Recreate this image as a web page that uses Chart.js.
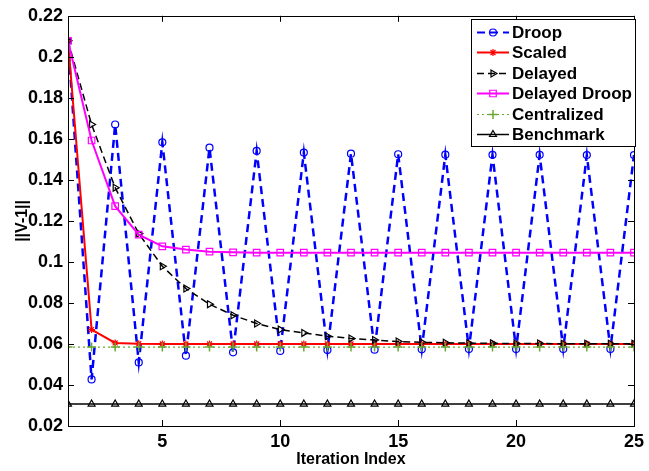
<!DOCTYPE html>
<html>
<head>
<meta charset="utf-8">
<script src="https://cdn.jsdelivr.net/npm/chart.js@4.4.0/dist/chart.umd.min.js"></script>
<style>
html, body { margin: 0; padding: 0; background: #fff; }
#wrap { width: 649px; height: 471px; position: relative; }
</style>
</head>
<body>
<div id="wrap"><canvas id="vChart"></canvas></div>
<script>
var iterations = [1, 2, 3, 4, 5, 6, 7, 8, 9, 10, 11, 12, 13, 14, 15, 16, 17, 18, 19, 20, 21, 22, 23, 24, 25];
var droop = [0.2078, 0.0427, 0.1670, 0.0510, 0.1583, 0.0543, 0.1557, 0.0559, 0.1541, 0.0566, 0.1533, 0.0570, 0.1528,
             0.0572, 0.1525, 0.0574, 0.1523, 0.0575, 0.1522, 0.0575, 0.1522, 0.0576, 0.1521, 0.0576, 0.1521];
var scaled = [0.2078, 0.0670, 0.0605, 0.0601, 0.0600, 0.0600, 0.0600, 0.0600, 0.0600, 0.0600, 0.0600, 0.0600, 0.0600,
              0.0600, 0.0600, 0.0600, 0.0600, 0.0600, 0.0600, 0.0600, 0.0600, 0.0600, 0.0600, 0.0600, 0.0600];
var delayed = [0.2078, 0.1670, 0.1362, 0.1138, 0.0979, 0.0870, 0.0794, 0.0740, 0.0700, 0.0670, 0.0654, 0.0638, 0.0627,
               0.0619, 0.0612, 0.0608, 0.0606, 0.0604, 0.0603, 0.0602, 0.0602, 0.0601, 0.0601, 0.0601, 0.0601];
var delayedDroop = [0.2078, 0.1592, 0.1272, 0.1133, 0.1076, 0.1060, 0.1050, 0.1047, 0.1045, 0.1045, 0.1045, 0.1045, 0.1045,
                    0.1045, 0.1045, 0.1045, 0.1045, 0.1045, 0.1045, 0.1045, 0.1045, 0.1045, 0.1045, 0.1045, 0.1045];
var centralized = [0.0585, 0.0585, 0.0585, 0.0585, 0.0585, 0.0585, 0.0585, 0.0585, 0.0585, 0.0585, 0.0585, 0.0585, 0.0585,
                   0.0585, 0.0585, 0.0585, 0.0585, 0.0585, 0.0585, 0.0585, 0.0585, 0.0585, 0.0585, 0.0585, 0.0585];
var benchmark = [0.0307, 0.0307, 0.0307, 0.0307, 0.0307, 0.0307, 0.0307, 0.0307, 0.0307, 0.0307, 0.0307, 0.0307, 0.0307,
                 0.0307, 0.0307, 0.0307, 0.0307, 0.0307, 0.0307, 0.0307, 0.0307, 0.0307, 0.0307, 0.0307, 0.0307];
var xTicks = [5, 10, 15, 20, 25];
var yTicks = [0.02, 0.04, 0.06, 0.08, 0.1, 0.12, 0.14, 0.16, 0.18, 0.2, 0.22];

var FONT = "'Liberation Sans', Arial, sans-serif";
var NONE = 'rgba(0,0,0,0)';

function xy(vals) {
    return vals.map(function (v, i) { return {x: iterations[i], y: v}; });
}

function series(label, vals, color, opts) {
    var ds = {
        label: label, data: xy(vals), borderColor: color, pointBorderColor: color,
        pointBackgroundColor: NONE, borderWidth: 1.5, pointBorderWidth: 1.2,
        pointRadius: 4, pointHoverRadius: 4, tension: 0, fill: false
    };
    for (var k in opts) ds[k] = opts[k];
    return ds;
}

var datasets = [
    series('Droop', droop, '#0000ff', {borderWidth: 2.5, borderDash: [8, 5], pointStyle: 'circle', pointRadius: 3.5, order: 6}),
    series('Scaled', scaled, '#ff0000', {borderWidth: 2, pointStyle: 'star', pointRadius: 3.5, pointBorderWidth: 1.2, order: 5}),
    series('Delayed', delayed, '#000000', {borderWidth: 1.5, borderDash: [7, 4], pointStyle: 'triangle', pointRotation: 90, order: 4}),
    series('Delayed Droop', delayedDroop, '#ff00ff', {borderWidth: 2, pointStyle: 'rect', pointRadius: 4.6, order: 3}),
    series('Centralized', centralized, '#6aa832', {borderWidth: 1.2, borderDash: [2, 3], pointStyle: 'cross', pointRadius: 4.5, pointBorderWidth: 1.5, order: 2}),
    series('Benchmark', benchmark, '#000000', {borderWidth: 1.5, pointStyle: 'triangle', pointRadius: 4, order: 1})
];

// matlab style box with inward ticks
var axesBox = {
    id: 'axesBox',
    afterDatasetsDraw: function (chart) {
        var ctx = chart.ctx, a = chart.chartArea;
        var sx = chart.scales.x, sy = chart.scales.y;
        ctx.save();
        ctx.strokeStyle = '#000';
        ctx.lineWidth = 1;
        ctx.strokeRect(Math.round(a.left) + 0.5, Math.round(a.top) + 0.5, Math.round(a.right - a.left), Math.round(a.bottom - a.top));
        ctx.beginPath();
        xTicks.forEach(function (t) {
            var px = Math.round(sx.getPixelForValue(t)) + 0.5;
            ctx.moveTo(px, a.bottom); ctx.lineTo(px, a.bottom - 6);
            ctx.moveTo(px, a.top); ctx.lineTo(px, a.top + 6);
        });
        yTicks.forEach(function (t) {
            var py = Math.round(sy.getPixelForValue(t)) + 0.5;
            ctx.moveTo(a.left, py); ctx.lineTo(a.left + 6, py);
            ctx.moveTo(a.right, py); ctx.lineTo(a.right - 6, py);
        });
        ctx.stroke();
        ctx.restore();
    }
};

var legendBox = {
    id: 'legendBox',
    afterDraw: function (chart) {
        var ctx = chart.ctx;
        var x0 = 471, y0 = 19, w = 164, h = 127;
        ctx.save();
        ctx.fillStyle = '#fff';
        ctx.fillRect(x0, y0, w, h);
        ctx.strokeStyle = '#000';
        ctx.lineWidth = 1;
        ctx.strokeRect(x0 + 0.5, y0 + 0.5, w, h);
        chart.data.datasets.forEach(function (ds, i) {
            var y = Math.round(y0 + 12.5 + i * 20.5) + 0.5;
            ctx.save();
            ctx.strokeStyle = ds.borderColor;
            ctx.lineWidth = Math.min(ds.borderWidth, 2);
            ctx.setLineDash(ds.borderDash || []);
            ctx.beginPath();
            ctx.moveTo(477, y); ctx.lineTo(509, y);
            ctx.stroke();
            ctx.setLineDash([]);
            ctx.fillStyle = ds.pointBackgroundColor;
            ctx.lineWidth = ds.pointBorderWidth;
            Chart.helpers.drawPoint(ctx, {
                pointStyle: ds.pointStyle, rotation: ds.pointRotation || 0,
                radius: ds.pointRadius, borderWidth: ds.pointBorderWidth
            }, 493, y);
            ctx.restore();
            ctx.fillStyle = '#000';
            ctx.font = 'bold 17px ' + FONT;
            ctx.textBaseline = 'middle';
            ctx.textAlign = 'left';
            ctx.fillText(ds.label, 512, y + 1);
        });
        ctx.restore();
    }
};

Chart.defaults.font.family = FONT;
Chart.defaults.color = '#000';

var vChart = new Chart(document.getElementById('vChart').getContext('2d'), {
    type: 'line',
    data: {datasets: datasets},
    plugins: [axesBox, legendBox],
    options: {
        responsive: true, maintainAspectRatio: false, animation: false,
        layout: {padding: {top: 15, right: 10, left: 0, bottom: 0}},
        plugins: {legend: {display: false}, tooltip: {enabled: false}},
        scales: {
            x: {
                type: 'linear', min: 1, max: 25,
                afterBuildTicks: function (s) { s.ticks = xTicks.map(function (v) { return {value: v}; }); },
                afterFit: function (s) { s.height = 45; },
                grid: {display: false, drawTicks: false},
                border: {display: false},
                ticks: {font: {size: 18, weight: 'bold'}, color: '#000', padding: 5, maxRotation: 0, autoSkip: false},
                title: {display: true, text: 'Iteration Index', font: {size: 16, weight: 'bold'}, color: '#000', padding: {top: 0, bottom: 2}}
            },
            y: {
                type: 'linear', min: 0.02, max: 0.22,
                afterBuildTicks: function (s) { s.ticks = yTicks.map(function (v) { return {value: v}; }); },
                afterFit: function (s) { s.width = 68; },
                grid: {display: false, drawTicks: false},
                border: {display: false},
                ticks: {font: {size: 18, weight: 'bold'}, color: '#000', padding: 5,
                        callback: function (v) { return String(+v.toFixed(2)); }},
                title: {display: true, text: '||V-1||', font: {size: 16, weight: 'bold'}, color: '#000', padding: {top: 13, bottom: 0}}
            }
        }
    }
});
</script>
</body>
</html>
